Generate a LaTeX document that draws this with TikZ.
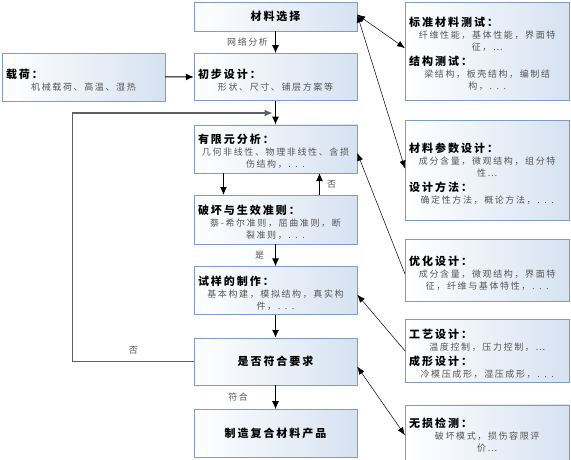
\documentclass[tikz,border=0pt]{standalone}
\usepackage{fontspec}
\setmainfont{Noto Sans CJK SC}[LetterSpace=18]
\usepackage{xcolor}
\usetikzlibrary{arrows.meta,positioning}

\definecolor{boxline}{HTML}{7F9DC4}
\definecolor{boxfill}{HTML}{D6E2F1}
\definecolor{txtgray}{HTML}{555555}
\definecolor{loopgray}{HTML}{606060}
\newcommand{\hd}[1]{\par{\raggedright\color{black}\fontsize{11}{15}\selectfont\bfseries #1\par}}

\begin{document}
\begin{tikzpicture}[
        x=1pt, y=-1pt,
        box/.style={rectangle, draw=boxline, left color=white, right color=boxfill, text width=155pt, align=center, inner sep=4pt, text=txtgray, font=\fontsize{9}{12}\selectfont},
        rbox/.style={box, text width=156pt},
        titlebox/.style={box, text=black, font=\fontsize{11}{14}\selectfont\bfseries},
        lbl/.style={text=txtgray, font=\fontsize{9}{11}\selectfont, inner sep=1pt},
        flow/.style={-{Latex[length=8pt,width=7pt]}, line width=1pt},
        link/.style={{Latex[length=8pt,width=6pt]}-{Latex[length=8pt,width=6pt]}, line width=0.5pt},
        back/.style={{Latex[length=8pt,width=6pt]}-, line width=0.5pt},
        loop/.style={-{Latex[length=8pt,width=7pt]}, line width=1.2pt, draw=loopgray},
        ]
        \useasboundingbox (0,0) rectangle (571,459);

        % Main flow
        \node[titlebox, minimum height=29pt] (select) at (275.5,16.5) {材料选择};
        \node[box, minimum height=47pt, below=22pt of select] (prelim) {\hd{初步设计：}形状、尺寸、铺层方案等};
        \node[box, minimum height=48pt, below=24pt of prelim] (fem) {\hd{有限元分析：}几何非线性、物理非线性、含损\\伤结构，. . .};
        \node[box, minimum height=49pt, below=22pt of fem] (failure) {\hd{破坏与生效准则：}蔡-希尔准则，屈曲准则，断\\裂准则，. . .};
        \node[box, minimum height=48pt, below=22pt of failure] (sample) {\hd{试样的制作：}基本构建，模拟结构，真实构\\件，. . .};
        \node[titlebox, minimum height=47pt, below=23pt of sample] (check) {是否符合要求};
        \node[titlebox, minimum height=48pt, below=24pt of check] (product) {制造复合材料产品};

        % Load input
        \node[box, minimum height=48pt] (load) at (83.5,77) {\hd{载荷：}机械载荷、高温、湿热};

        % Supporting tasks
        \node[rbox, anchor=north west, minimum height=98pt] (stdtest) at (405,2) {\hd{标准材料测试：}纤维性能，基体性能，界面特\\征，…\hd{结构测试：}梁结构，板壳结构，编制结\\构，. . .};
        \node[rbox, minimum height=100pt, below=20pt of stdtest] (param) {\hd{材料参数设计：}成分含量，微观结构，组分特\\性…\hd{设计方法：}确定性方法，概论方法，. . .};
        \node[rbox, minimum height=62pt, below=18pt of param] (optim) {\hd{优化设计：}成分含量，微观结构，界面特\\征，纤维与基体特性，. . .};
        \node[rbox, minimum height=62pt, below=18pt of optim] (process) {\hd{工艺设计：}温度控制，压力控制，…\hd{成形设计：}冷模压成形，湿压成形，. . .};
        \node[rbox, minimum height=55pt, below=22pt of process] (ndt) {\hd{无损检测：}破坏模式，损伤容限评\\价…};

        % Arrows of the main flow
        \draw[flow] (select) -- node[lbl, left=6pt] {网络分析} (prelim);
        \draw[flow] (load) -- (prelim);
        \draw[flow] (prelim) -- (fem);
        \draw[flow] ([xshift=-52pt]fem.south) -- ([xshift=-52pt]failure.north);
        \draw[flow] ([xshift=44pt]failure.north) -- node[lbl, right=6pt] {否} ([xshift=44pt]fem.south);
        \draw[flow] (failure) -- node[lbl, left=10pt] {是} (sample);
        \draw[flow] (sample) -- (check);
        \draw[flow] (check) -- node[lbl, left=26pt] {符合} (product);

        % Feedback loop
        \coordinate (loopin) at ([xshift=-3pt]prelim.south |- 0,113);
        \draw[loop] (check.west) -- node[lbl, above=6pt] {否} ++(-121,0) |- (loopin);

        % Links to supporting tasks
        \draw[link] ([yshift=2pt]select.east) -- ([yshift=3pt]stdtest.west);
        \draw[link] ([yshift=2pt]select.east) -- ([yshift=2pt]param.west);
        \draw[back] ([yshift=-4pt]fem.east) -- ([yshift=-4pt]optim.west);
        \draw[back] ([yshift=-4pt]sample.east) -- (process.west);
        \draw[link] ([yshift=-5pt]check.east) -- ([yshift=-3pt]ndt.west);

    \end{tikzpicture}
\end{document}
